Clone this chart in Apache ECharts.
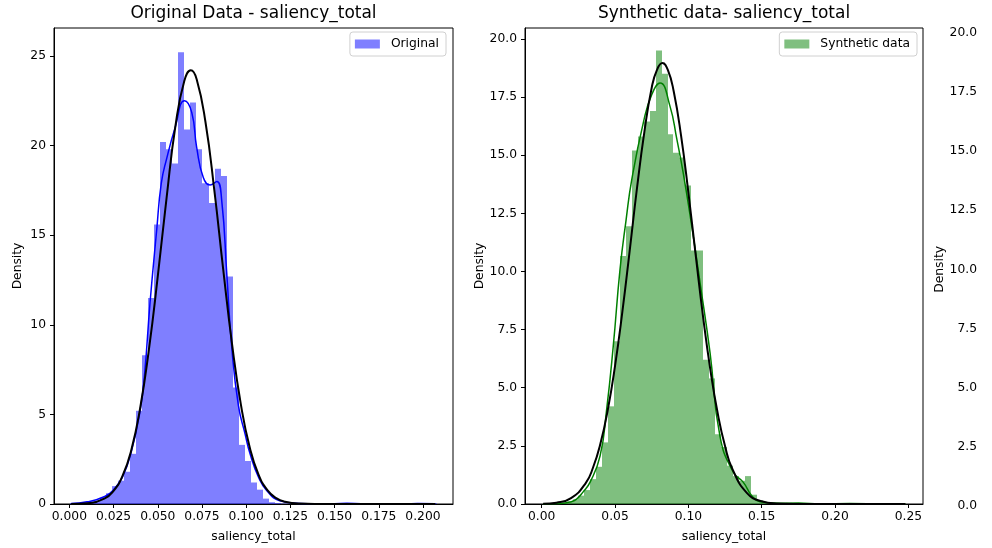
<!DOCTYPE html>
<html><head><meta charset="utf-8">
<script src="https://cdn.jsdelivr.net/npm/echarts@6/dist/echarts.min.js"></script>
<style>html,body{margin:0;padding:0;background:#fff}#c{width:992px;height:548px}</style>
</head><body><div id="c"></div>
<script>
const FONT = 'DejaVu Sans';

// ---- Original data histogram (density) ----
const origBinStart = 0.0005;
const origBinWidth = 0.0034;
const origDensity = [0.05,0.05,0.1,0.15,0.2,0.35,0.6,1.0,1.3,1.8,
  2.8,5.2,8.3,11.5,15.6,20.2,19.8,19.0,25.2,20.9,
  22.4,19.8,17.9,16.8,18.7,18.3,12.7,6.5,3.3,2.4,
  1.2,0.8,0.3,0.1,0.05,0.02,0,0,0,0,
  0,0,0,0,0.02,0.05,0.05,0.02,0,0,
  0,0,0,0,0,0,0.02,0.05,0,0,0.03];

// KDE of original (blue line)
const origKdeX = [0.001,0.01,0.02,0.025,0.03,0.035,0.04,0.0425,0.0456,0.0494,0.052,0.0551,0.0598,0.0651,0.0692,0.072,0.0758,0.0796,0.0834,0.0862,0.089,0.0918,0.0956,0.0994,0.1022,0.107,0.1117,0.119,0.13,0.14,0.15,0.157,0.165,0.175,0.19,0.197,0.207];
const origKdeY = [0.03,0.12,0.42,0.8,1.5,2.9,5.2,7.2,11.2,15.3,17.9,19.3,21.0,22.5,21.85,19.9,18.2,17.8,18.0,16.9,12.9,8.8,5.5,3.9,2.8,1.5,0.74,0.18,0.03,0.01,0.02,0.04,0.02,0.01,0.01,0.03,0.01];

// Normal fit of original (black line)
const origFitX = [0.001,0.01,0.02,0.025,0.03,0.035,0.04,0.045,0.05,0.055,0.06,0.065,0.0687,0.072,0.077,0.082,0.087,0.092,0.097,0.102,0.107,0.112,0.117,0.122,0.13,0.14,0.155,0.207];
const origFitY = [0.005,0.043,0.31,0.73,1.55,3.0,5.33,8.63,12.7,17.1,21.1,23.6,24.2,23.7,21.3,17.5,13.1,8.93,5.56,3.16,1.64,0.77,0.33,0.13,0.024,0.003,0,0];

// ---- Synthetic data histogram (density) ----
const synBinStart = 0.00075;
const synBinWidth = 0.00405;
const synDensity = [0,0.02,0.03,0.05,0.1,0.2,0.36,0.6,1.07,1.6,
  2.65,4.2,7.0,10.66,11.94,15.2,15.8,16.45,16.9,19.5,
  18.5,15.9,15.1,14.9,13.7,10.9,10.9,6.2,5.4,3.0,
  2.45,1.65,1.2,1.0,1.2,0.4,0.15,0.05,0.02,0.02,
  0.03,0.05,0.03,0.01,0.01,0,0,0.01,0,0,
  0.03,0.03,0,0,0.01,0,0,0.01,0,0,0.02];

// KDE of synthetic (green line)
const synKdeX = [0.001,0.0125,0.02,0.0238,0.028,0.033,0.0398,0.0443,0.0488,0.0534,0.0575,0.0614,0.0693,0.075,0.0807,0.0875,0.0921,0.0966,0.1023,0.108,0.1148,0.1216,0.1307,0.1375,0.1432,0.1489,0.163,0.175,0.19,0.21,0.23,0.248];
const synKdeY = [0.0,0.02,0.1,0.21,0.5,0.94,2.07,4.08,6.8,10.09,12.2,13.95,16.4,17.6,18.1,17.1,15.7,14.2,11.95,9.5,6.5,2.9,1.36,0.93,0.36,0.1,0.03,0.04,0.01,0.02,0.01,0.0];

// Normal fit of synthetic (black line)
const synFitX = [0.001,0.01,0.02,0.03,0.035,0.04,0.045,0.05,0.055,0.06,0.065,0.07,0.075,0.0786,0.0823,0.086,0.09,0.095,0.1,0.105,0.11,0.115,0.12,0.125,0.13,0.14,0.15,0.16,0.175,0.248];
const synFitY = [0.013,0.057,0.25,0.90,1.57,2.59,4.03,5.94,8.27,10.9,13.6,16.0,17.9,18.67,18.96,18.67,17.75,15.85,13.4,10.7,8.07,5.77,3.9,2.49,1.51,0.47,0.116,0.023,0.002,0];

// ---- ticks ----
const xTicksOrig = [0,0.025,0.05,0.075,0.1,0.125,0.15,0.175,0.2];
const xTicksSyn = [0,0.05,0.1,0.15,0.2,0.25];
const yTicksOrig = [0,5,10,15,20,25];
const yTicksSyn = [0,2.5,5,7.5,10,12.5,15,17.5,20];
const yTicksExtra = [0,2.5,5,7.5,10,12.5,15,17.5,20];

const titles = ['Original Data - saliency_total', 'Synthetic data- saliency_total'];
const legendNames = ['Original', 'Synthetic data'];
const xName = 'saliency_total';
const yName = 'Density';

const FS = 12.3;
const txt = {color:'#000', fontFamily:FONT, fontSize:FS};

function bins(start, width, dens){
  return dens.map((d,i)=>[start+i*width, start+(i+1)*width, d]);
}
function pairs(xs, ys){ return xs.map((x,i)=>[x, ys[i]]); }
function histRender(params, api){
  const a = api.coord([api.value(0), api.value(2)]);
  const b = api.coord([api.value(1), 0]);
  const x0 = Math.round(a[0]), x1 = Math.round(b[0]);
  return {type:'rect', shape:{x:x0, y:a[1], width:x1-x0, height:b[1]-a[1]},
    style:{fill: api.visual('color')}};
}
const axLine = {show:true, onZero:false, lineStyle:{color:'#000', width:1}};
function xAxisCfg(grid, min, max, ticks, dec){
  return {type:'value', gridIndex:grid, min:min, max:max,
    name:xName, nameLocation:'middle', nameGap:27, nameTextStyle:txt,
    axisLine:axLine, splitLine:{show:false},
    axisTick:{show:true, inside:false, length:4, customValues:ticks, lineStyle:{color:'#000', width:1}},
    axisLabel:Object.assign({margin:7, customValues:ticks, formatter:v=>v.toFixed(dec)}, txt)};
}
function yAxisCfg(grid, min, max, ticks, dec, gap){
  return {type:'value', gridIndex:grid, min:min, max:max,
    name:yName, nameLocation:'middle', nameGap:gap, nameRotate:90, nameTextStyle:txt,
    axisLine:axLine, splitLine:{show:false},
    axisTick:{show:true, inside:false, length:4, customValues:ticks, lineStyle:{color:'#000', width:1}},
    axisLabel:Object.assign({margin:8, customValues:ticks, formatter:v=>v.toFixed(dec)}, txt)};
}
function legendCfg(name, right){
  return {data:[{name:name, icon:'rect'}], right:right, top:32, orient:'vertical',
    itemWidth:25, itemHeight:9, padding:[6,7,6,5],
    backgroundColor:'rgba(255,255,255,0.8)', borderColor:'#d0d0d0', borderWidth:1, borderRadius:3,
    textStyle:Object.assign({padding:[0,0,0,6]}, txt)};
}
const titleFont = '17px "DejaVu Sans"';

const chart = echarts.init(document.getElementById('c'), null, {renderer:'canvas'});
chart.setOption({
  animation:false,
  backgroundColor:'#fff',
  graphic:[
    {type:'text', x:253.5, y:13.5, style:{text:titles[0], fill:'#000', font:titleFont, align:'center', verticalAlign:'middle'}},
    {type:'text', x:724, y:13.5, style:{text:titles[1], fill:'#000', font:titleFont, align:'center', verticalAlign:'middle'}}
  ],
  legend:[legendCfg(legendNames[0], 546), legendCfg(legendNames[1], 75)],
  grid:[
    {left:54, top:28, width:399, height:477, show:true, borderColor:'#000', borderWidth:1, backgroundColor:'transparent'},
    {left:525, top:28, width:398, height:477, show:true, borderColor:'#000', borderWidth:1, backgroundColor:'transparent'},
    {left:993, top:32.7, width:100, height:473.3, show:false}
  ],
  xAxis:[
    xAxisCfg(0, -0.0087, 0.217, xTicksOrig, 3),
    xAxisCfg(1, -0.0114, 0.26, xTicksSyn, 2),
    {type:'value', gridIndex:2, show:false, min:0, max:1}
  ],
  yAxis:[
    yAxisCfg(0, 0, 26.56, yTicksOrig, 0, 30),
    yAxisCfg(1, 0, 20.47, yTicksSyn, 1, 37),
    {type:'value', gridIndex:2, min:0, max:20, name:yName, nameLocation:'middle', nameGap:37, nameRotate:90, nameTextStyle:txt,
     axisLine:{show:false}, axisTick:{show:false}, splitLine:{show:false},
     axisLabel:Object.assign({margin:16, customValues:yTicksExtra, formatter:v=>v.toFixed(1)}, txt)}
  ],
  series:[
    {type:'custom', name:legendNames[0], xAxisIndex:0, yAxisIndex:0, renderItem:histRender,
     itemStyle:{color:'rgba(0,0,255,0.5)'}, encode:{x:[0,1], y:2}, data:bins(origBinStart, origBinWidth, origDensity), z:1},
    {type:'line', xAxisIndex:0, yAxisIndex:0, data:pairs(origKdeX, origKdeY), showSymbol:false, smooth:0.5,
     lineStyle:{color:'#0000ff', width:1.5}, itemStyle:{color:'#0000ff'}, z:2},
    {type:'line', xAxisIndex:0, yAxisIndex:0, data:pairs(origFitX, origFitY), showSymbol:false, smooth:0.5,
     lineStyle:{color:'#000', width:2}, itemStyle:{color:'#000'}, z:3},
    {type:'custom', name:legendNames[1], xAxisIndex:1, yAxisIndex:1, renderItem:histRender,
     itemStyle:{color:'rgba(0,128,0,0.5)'}, encode:{x:[0,1], y:2}, data:bins(synBinStart, synBinWidth, synDensity), z:1},
    {type:'line', xAxisIndex:1, yAxisIndex:1, data:pairs(synKdeX, synKdeY), showSymbol:false, smooth:0.5,
     lineStyle:{color:'#008000', width:1.5}, itemStyle:{color:'#008000'}, z:2},
    {type:'line', xAxisIndex:1, yAxisIndex:1, data:pairs(synFitX, synFitY), showSymbol:false, smooth:0.5,
     lineStyle:{color:'#000', width:2}, itemStyle:{color:'#000'}, z:3}
  ]
});
</script>
</body></html>
